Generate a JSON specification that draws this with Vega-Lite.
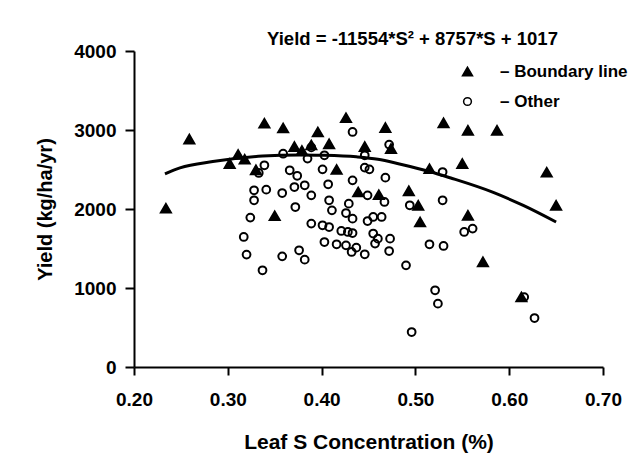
{
  "$schema": "https://vega.github.io/schema/vega-lite/v6.json",
  "width": 469,
  "height": 316,
  "autosize": {"type": "none"},
  "padding": {"left": 134, "top": 51, "right": 32, "bottom": 108},
  "background": "white",
  "config": {
    "view": {"stroke": null},
    "font": "Liberation Sans",
    "legend": {
      "title": null,
      "orient": "none",
      "legendX": 325,
      "legendY": 12,
      "labelFontSize": 17,
      "labelFontWeight": "bold",
      "labelColor": "black",
      "labelOffset": 24,
      "rowPadding": 12
    }
  },
  "title": {
    "text": "Yield = -11554*S² + 8757*S + 1017",
    "fontSize": 18.5,
    "fontWeight": "bold",
    "color": "black",
    "frame": "group",
    "anchor": "middle",
    "dx": 44,
    "dy": 25,
    "offset": 4,
    "baseline": "alphabetic"
  },
  "datasets": {
    "curve": [
      {"S": 0.233, "Yield": 2445},
      {"S": 0.249, "Yield": 2520},
      {"S": 0.284, "Yield": 2600},
      {"S": 0.337, "Yield": 2670},
      {"S": 0.376, "Yield": 2685},
      {"S": 0.401, "Yield": 2680},
      {"S": 0.437, "Yield": 2660},
      {"S": 0.460, "Yield": 2630},
      {"S": 0.483, "Yield": 2570},
      {"S": 0.515, "Yield": 2475},
      {"S": 0.537, "Yield": 2395},
      {"S": 0.583, "Yield": 2210},
      {"S": 0.615, "Yield": 2045},
      {"S": 0.650, "Yield": 1835}
    ],
    "points": [
      {"S": 0.234, "Yield": 2010, "group": "Boundary line"},
      {"S": 0.259, "Yield": 2885, "group": "Boundary line"},
      {"S": 0.302, "Yield": 2575, "group": "Boundary line"},
      {"S": 0.311, "Yield": 2690, "group": "Boundary line"},
      {"S": 0.318, "Yield": 2630, "group": "Boundary line"},
      {"S": 0.330, "Yield": 2495, "group": "Boundary line"},
      {"S": 0.339, "Yield": 3085, "group": "Boundary line"},
      {"S": 0.350, "Yield": 1915, "group": "Boundary line"},
      {"S": 0.359, "Yield": 3025, "group": "Boundary line"},
      {"S": 0.371, "Yield": 2790, "group": "Boundary line"},
      {"S": 0.379, "Yield": 2740, "group": "Boundary line"},
      {"S": 0.389, "Yield": 2810, "group": "Boundary line"},
      {"S": 0.396, "Yield": 2975, "group": "Boundary line"},
      {"S": 0.408, "Yield": 2825, "group": "Boundary line"},
      {"S": 0.416, "Yield": 2500, "group": "Boundary line"},
      {"S": 0.426, "Yield": 3155, "group": "Boundary line"},
      {"S": 0.439, "Yield": 2215, "group": "Boundary line"},
      {"S": 0.446, "Yield": 2790, "group": "Boundary line"},
      {"S": 0.461, "Yield": 2180, "group": "Boundary line"},
      {"S": 0.468, "Yield": 3030, "group": "Boundary line"},
      {"S": 0.474, "Yield": 2765, "group": "Boundary line"},
      {"S": 0.493, "Yield": 2230, "group": "Boundary line"},
      {"S": 0.503, "Yield": 2045, "group": "Boundary line"},
      {"S": 0.505, "Yield": 1835, "group": "Boundary line"},
      {"S": 0.515, "Yield": 2510, "group": "Boundary line"},
      {"S": 0.530, "Yield": 3090, "group": "Boundary line"},
      {"S": 0.550, "Yield": 2575, "group": "Boundary line"},
      {"S": 0.556, "Yield": 2995, "group": "Boundary line"},
      {"S": 0.556, "Yield": 1920, "group": "Boundary line"},
      {"S": 0.572, "Yield": 1330, "group": "Boundary line"},
      {"S": 0.587, "Yield": 2995, "group": "Boundary line"},
      {"S": 0.613, "Yield": 886, "group": "Boundary line"},
      {"S": 0.640, "Yield": 2465, "group": "Boundary line"},
      {"S": 0.650, "Yield": 2045, "group": "Boundary line"},
      {"S": 0.359, "Yield": 2700, "group": "Other"},
      {"S": 0.339, "Yield": 2553, "group": "Other"},
      {"S": 0.333, "Yield": 2456, "group": "Other"},
      {"S": 0.366, "Yield": 2490, "group": "Other"},
      {"S": 0.328, "Yield": 2237, "group": "Other"},
      {"S": 0.341, "Yield": 2245, "group": "Other"},
      {"S": 0.328, "Yield": 2110, "group": "Other"},
      {"S": 0.358, "Yield": 2202, "group": "Other"},
      {"S": 0.371, "Yield": 2278, "group": "Other"},
      {"S": 0.372, "Yield": 2025, "group": "Other"},
      {"S": 0.324, "Yield": 1891, "group": "Other"},
      {"S": 0.317, "Yield": 1646, "group": "Other"},
      {"S": 0.320, "Yield": 1423, "group": "Other"},
      {"S": 0.337, "Yield": 1224, "group": "Other"},
      {"S": 0.358, "Yield": 1401, "group": "Other"},
      {"S": 0.376, "Yield": 1477, "group": "Other"},
      {"S": 0.433, "Yield": 2975, "group": "Other"},
      {"S": 0.472, "Yield": 2815, "group": "Other"},
      {"S": 0.389, "Yield": 2780, "group": "Other"},
      {"S": 0.385, "Yield": 2638, "group": "Other"},
      {"S": 0.403, "Yield": 2680, "group": "Other"},
      {"S": 0.446, "Yield": 2680, "group": "Other"},
      {"S": 0.401, "Yield": 2502, "group": "Other"},
      {"S": 0.446, "Yield": 2524, "group": "Other"},
      {"S": 0.451, "Yield": 2502, "group": "Other"},
      {"S": 0.468, "Yield": 2397, "group": "Other"},
      {"S": 0.529, "Yield": 2468, "group": "Other"},
      {"S": 0.374, "Yield": 2420, "group": "Other"},
      {"S": 0.433, "Yield": 2363, "group": "Other"},
      {"S": 0.407, "Yield": 2313, "group": "Other"},
      {"S": 0.382, "Yield": 2300, "group": "Other"},
      {"S": 0.389, "Yield": 2173, "group": "Other"},
      {"S": 0.529, "Yield": 2110, "group": "Other"},
      {"S": 0.449, "Yield": 2173, "group": "Other"},
      {"S": 0.467, "Yield": 2089, "group": "Other"},
      {"S": 0.408, "Yield": 2110, "group": "Other"},
      {"S": 0.411, "Yield": 1983, "group": "Other"},
      {"S": 0.429, "Yield": 2068, "group": "Other"},
      {"S": 0.426, "Yield": 1949, "group": "Other"},
      {"S": 0.433, "Yield": 1878, "group": "Other"},
      {"S": 0.494, "Yield": 2047, "group": "Other"},
      {"S": 0.455, "Yield": 1899, "group": "Other"},
      {"S": 0.464, "Yield": 1899, "group": "Other"},
      {"S": 0.449, "Yield": 1848, "group": "Other"},
      {"S": 0.389, "Yield": 1815, "group": "Other"},
      {"S": 0.401, "Yield": 1794, "group": "Other"},
      {"S": 0.408, "Yield": 1772, "group": "Other"},
      {"S": 0.421, "Yield": 1722, "group": "Other"},
      {"S": 0.428, "Yield": 1709, "group": "Other"},
      {"S": 0.433, "Yield": 1696, "group": "Other"},
      {"S": 0.455, "Yield": 1689, "group": "Other"},
      {"S": 0.473, "Yield": 1625, "group": "Other"},
      {"S": 0.460, "Yield": 1625, "group": "Other"},
      {"S": 0.403, "Yield": 1582, "group": "Other"},
      {"S": 0.416, "Yield": 1553, "group": "Other"},
      {"S": 0.426, "Yield": 1540, "group": "Other"},
      {"S": 0.437, "Yield": 1511, "group": "Other"},
      {"S": 0.457, "Yield": 1562, "group": "Other"},
      {"S": 0.432, "Yield": 1456, "group": "Other"},
      {"S": 0.446, "Yield": 1427, "group": "Other"},
      {"S": 0.472, "Yield": 1468, "group": "Other"},
      {"S": 0.382, "Yield": 1359, "group": "Other"},
      {"S": 0.515, "Yield": 1553, "group": "Other"},
      {"S": 0.530, "Yield": 1532, "group": "Other"},
      {"S": 0.490, "Yield": 1287, "group": "Other"},
      {"S": 0.521, "Yield": 971, "group": "Other"},
      {"S": 0.524, "Yield": 802, "group": "Other"},
      {"S": 0.496, "Yield": 443, "group": "Other"},
      {"S": 0.552, "Yield": 1709, "group": "Other"},
      {"S": 0.561, "Yield": 1752, "group": "Other"},
      {"S": 0.616, "Yield": 885, "group": "Other"},
      {"S": 0.627, "Yield": 620, "group": "Other"}
    ]
  },
  "encoding": {
    "x": {
      "field": "S",
      "type": "quantitative",
      "scale": {"domain": [0.2, 0.7], "nice": false, "zero": false},
      "axis": {
        "title": "Leaf S Concentration (%)",
        "values": [0.2, 0.3, 0.4, 0.5, 0.6, 0.7],
        "format": ".2f",
        "grid": false,
        "domainColor": "black",
        "domainWidth": 2,
        "tickColor": "black",
        "tickWidth": 2,
        "tickSize": 8,
        "labelFlush": false,
        "labelFontSize": 19,
        "labelFontWeight": "bold",
        "labelColor": "black",
        "labelPadding": 15,
        "titleFontSize": 21,
        "titleFontWeight": "bold",
        "titleColor": "black",
        "titlePadding": 22
      }
    },
    "y": {
      "field": "Yield",
      "type": "quantitative",
      "scale": {"domain": [0, 4000], "nice": false},
      "axis": {
        "title": "Yield (kg/ha/yr)",
        "values": [0, 1000, 2000, 3000, 4000],
        "format": "d",
        "grid": false,
        "domainColor": "black",
        "domainWidth": 2,
        "tickColor": "black",
        "tickWidth": 2,
        "tickSize": 9,
        "labelFlush": false,
        "labelFontSize": 19,
        "labelFontWeight": "bold",
        "labelColor": "black",
        "labelPadding": 9,
        "titleFontSize": 20,
        "titleFontWeight": "bold",
        "titleColor": "black",
        "titlePadding": 18
      }
    }
  },
  "layer": [
    {
      "data": {"name": "curve"},
      "mark": {"type": "line", "color": "black", "strokeWidth": 3, "interpolate": "monotone"}
    },
    {
      "data": {"name": "points"},
      "mark": {"type": "point", "filled": true, "stroke": "black", "strokeWidth": 2, "opacity": 1},
      "encoding": {
        "shape": {
          "field": "group",
          "type": "nominal",
          "scale": {"domain": ["Boundary line", "Other"], "range": ["triangle-up", "circle"]},
          "legend": {
            "labelExpr": "'– ' + datum.label",
            "encode": {"symbols": {"update": {"stroke": {"value": "black"}, "strokeWidth": {"value": 2}, "opacity": {"value": 1}}}}
          }
        },
        "fill": {
          "field": "group",
          "type": "nominal",
          "scale": {"domain": ["Boundary line", "Other"], "range": ["black", "transparent"]},
          "legend": {
            "labelExpr": "'– ' + datum.label",
            "encode": {"symbols": {"update": {"stroke": {"value": "black"}, "strokeWidth": {"value": 2}, "opacity": {"value": 1}}}}
          }
        },
        "size": {
          "field": "group",
          "type": "ordinal",
          "scale": {"domain": ["Boundary line", "Other"], "range": [100, 60]},
          "legend": {
            "labelExpr": "'– ' + datum.label",
            "encode": {"symbols": {"update": {"stroke": {"value": "black"}, "strokeWidth": {"value": 2}, "opacity": {"value": 1}}}}
          }
        }
      }
    }
  ]
}
